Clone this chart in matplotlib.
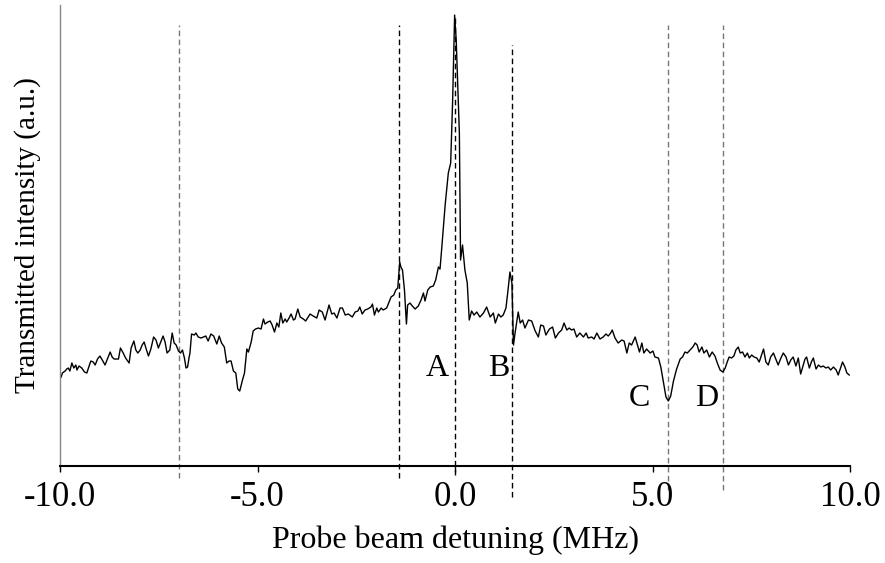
import matplotlib
matplotlib.use("Agg")
import matplotlib.pyplot as plt

plt.rcParams['font.family'] = ['Liberation Serif', 'DejaVu Serif']

# probe detuning (MHz) and transmitted intensity (a.u.)
detuning = [
    -9.97, -9.94, -9.87, -9.83, -9.79, -9.75, -9.70, -9.65, -9.60, -9.57,
    -9.52, -9.45, -9.38, -9.32, -9.28, -9.22, -9.16, -9.11, -9.05, -8.99,
    -8.93, -8.86, -8.80, -8.73, -8.68, -8.63, -8.52, -8.47, -8.40, -8.34,
    -8.25, -8.20, -8.13, -8.08, -8.03, -7.97, -7.92, -7.87, -7.81, -7.76,
    -7.70, -7.63, -7.57, -7.51, -7.46, -7.39, -7.34, -7.29, -7.22, -7.16,
    -7.11, -7.06, -7.00, -6.95, -6.90, -6.85, -6.81, -6.77, -6.73, -6.71,
    -6.67, -6.60, -6.56, -6.50, -6.43, -6.37, -6.31, -6.25, -6.18, -6.11,
    -6.03, -5.97, -5.91, -5.84, -5.78, -5.72, -5.67, -5.61, -5.55, -5.50,
    -5.45, -5.38, -5.33, -5.27, -5.23, -5.16, -5.11, -5.05, -4.98, -4.91,
    -4.85, -4.81, -4.74, -4.68, -4.63, -4.57, -4.51, -4.46, -4.41, -4.36,
    -4.30, -4.26, -4.20, -4.15, -4.09, -4.05, -3.98, -3.92, -3.84, -3.78,
    -3.67, -3.59, -3.50, -3.44, -3.36, -3.29, -3.19, -3.12, -3.06, -2.99,
    -2.91, -2.85, -2.78, -2.70, -2.60, -2.53, -2.46, -2.41, -2.35, -2.28,
    -2.21, -2.13, -2.09, -2.04, -1.98, -1.94, -1.87, -1.82, -1.73, -1.67,
    -1.62, -1.55, -1.50, -1.45, -1.40, -1.37, -1.33, -1.28, -1.23, -1.20,
    -1.14, -1.08, -1.01, -0.93, -0.86, -0.80, -0.76, -0.69, -0.63, -0.55,
    -0.49, -0.42, -0.38, -0.34, -0.25, -0.17, -0.11, -0.06, -0.01, 0.03,
    0.11, 0.14, 0.19, 0.25, 0.31, 0.36, 0.42, 0.48, 0.55, 0.63,
    0.72, 0.80, 0.89, 0.97, 1.02, 1.10, 1.16, 1.22, 1.29, 1.35,
    1.39, 1.44, 1.48, 1.52, 1.60, 1.65, 1.71, 1.77, 1.86, 1.94,
    2.03, 2.11, 2.17, 2.24, 2.30, 2.39, 2.47, 2.54, 2.62, 2.70,
    2.76, 2.83, 2.89, 2.95, 3.01, 3.08, 3.16, 3.25, 3.32, 3.37,
    3.46, 3.52, 3.59, 3.67, 3.75, 3.82, 3.88, 3.94, 3.98, 4.05,
    4.13, 4.22, 4.28, 4.35, 4.41, 4.47, 4.56, 4.62, 4.67, 4.73,
    4.78, 4.85, 4.94, 5.01, 5.06, 5.15, 5.21, 5.27, 5.34, 5.40,
    5.46, 5.53, 5.61, 5.70, 5.76, 5.82, 5.88, 5.95, 6.02, 6.08,
    6.13, 6.18, 6.25, 6.30, 6.37, 6.44, 6.51, 6.58, 6.64, 6.71,
    6.78, 6.84, 6.89, 6.94, 7.00, 7.06, 7.11, 7.17, 7.22, 7.28,
    7.34, 7.40, 7.45, 7.51, 7.57, 7.64, 7.70, 7.76, 7.81, 7.87,
    7.93, 7.99, 8.06, 8.13, 8.18, 8.25, 8.31, 8.38, 8.44, 8.50,
    8.56, 8.63, 8.69, 8.75, 8.80, 8.86, 8.90, 8.97, 9.02, 9.07,
    9.14, 9.20, 9.26, 9.32, 9.39, 9.45, 9.51, 9.58, 9.65, 9.70,
    9.76, 9.81, 9.87, 9.92, 9.98,
]
intensity = [
    89, 93, 95, 97, 98, 95, 103, 98, 101, 96,
    100, 98, 94, 93, 98, 105, 104, 101, 107, 110,
    106, 101, 107, 114, 109, 107, 107, 118, 113, 108,
    103, 118, 125, 116, 113, 116, 121, 124, 116, 110,
    117, 129, 126, 118, 123, 130, 124, 113, 116, 133,
    123, 121, 115, 113, 116, 108, 98, 99, 109, 113,
    132, 131, 133, 129, 128, 129, 130, 125, 132, 130,
    122, 130, 123, 119, 103, 105, 105, 95, 93, 77,
    75, 86, 93, 117, 114, 124, 135, 137, 138, 137,
    147, 142, 144, 145, 141, 134, 143, 139, 153, 143,
    147, 144, 148, 152, 146, 147, 157, 149, 147, 145,
    152, 150, 148, 156, 154, 146, 161, 152, 153, 148,
    158, 158, 151, 152, 149, 154, 155, 159, 152, 156,
    157, 159, 162, 151, 158, 154, 158, 156, 158, 164,
    169, 171, 176, 178, 204, 199, 196, 176, 142, 161,
    163, 160, 157, 160, 166, 173, 165, 176, 179, 180,
    186, 199, 197, 216, 261, 293, 303, 366, 451, 426,
    333, 206, 221, 196, 183, 146, 155, 151, 154, 149,
    153, 159, 149, 153, 143, 152, 149, 151, 158, 179,
    194, 183, 121, 133, 154, 143, 146, 138, 146, 145,
    135, 129, 141, 140, 131, 137, 139, 128, 133, 136,
    143, 136, 138, 136, 137, 129, 133, 129, 133, 128,
    129, 127, 133, 127, 129, 132, 130, 133, 136, 128,
    123, 126, 125, 113, 123, 121, 129, 121, 114, 123,
    113, 117, 113, 115, 109, 108, 99, 85, 69, 65,
    70, 85, 97, 107, 109, 114, 113, 116, 119, 123,
    121, 114, 119, 113, 116, 109, 114, 110, 103, 96,
    94, 98, 104, 109, 108, 110, 116, 119, 113, 114,
    109, 113, 108, 111, 109, 108, 104, 111, 117, 104,
    101, 109, 113, 106, 101, 108, 113, 109, 101, 106,
    109, 100, 108, 92, 99, 107, 109, 98, 104, 108,
    97, 101, 99, 100, 98, 99, 96, 99, 96, 91,
    98, 104, 99, 93, 91,
]

# marker lines: position, top, bottom, colour
line_pos = [-7.0, -1.42, 0.0, 1.44, 5.39, 6.78]
line_top = [441, 441, 450, 421, 441, 441]
line_bottom = [-12, -12, -9, -31, -24, -24]
line_color = ['#777777', 'black', 'black', 'black', '#777777', '#777777']

peak_names = ['A', 'B', 'C', 'D']
peak_x = [-0.46, 1.11, 4.68, 6.38]
peak_y = [98, 98, 68, 68]

xticks = [-10, -5, 0, 5, 10]
xtick_labels = ['-10.0', '-5.0', '0.0', '5.0', '10.0']

fig = plt.figure(figsize=(8.85, 5.63), dpi=100)
ax = fig.add_axes([0.0678, 0.1723, 0.8927, 0.8187])

for pos, top, bot, col in zip(line_pos, line_top, line_bottom, line_color):
    ax.plot([pos, pos], [bot, top], color=col, lw=1.0, ls=(0, (4, 2.5)),
            clip_on=False, zorder=1)

ax.plot(detuning, intensity, color='black', lw=1.0, zorder=2)

for name, px, py in zip(peak_names, peak_x, peak_y):
    ax.text(px, py, name, fontsize=23, ha='center', va='center')

ax.set_xlim(-10, 10)
ax.set_ylim(0, 461)
ax.set_xticks(xticks)
ax.set_xticklabels(xtick_labels)
ax.set_yticks([])
ax.tick_params(axis='x', direction='out', length=4, width=1, pad=7, labelsize=25)

ax.spines['top'].set_visible(False)
ax.spines['right'].set_visible(False)
ax.spines['bottom'].set_linewidth(1.5)
ax.spines['left'].set_color('#888888')
ax.spines['left'].set_linewidth(1.0)

ax.set_xlabel('Probe beam detuning (MHz)', fontsize=23, labelpad=8)
ax.set_ylabel('Transmitted intensity (a.u.)', fontsize=21, labelpad=14)

fig.savefig('out.png', dpi=100)
